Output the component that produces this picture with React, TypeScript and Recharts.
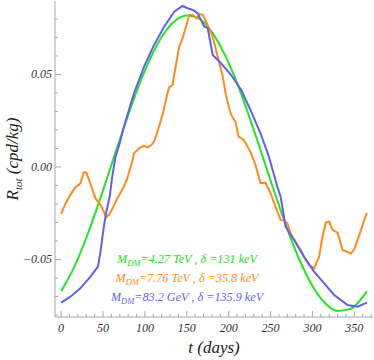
import React from "react";
import { LineChart, Line, XAxis, YAxis } from "recharts";

const greenDays = [0, 15, 30, 45, 60, 75, 90, 105, 120, 135, 150, 165, 180, 195, 210, 225, 240, 255, 270, 285, 300, 315, 330, 345, 365];
const greenValues = [-0.0672, -0.0547, -0.0384, -0.0194, 0.001, 0.0214, 0.0406, 0.0572, 0.0702, 0.0786, 0.0819, 0.080, 0.0729, 0.061, 0.0454, 0.0267, 0.0065, -0.0141, -0.0336, -0.0507, -0.0643, -0.0735, -0.0778, -0.0767, -0.0672];

const orangeDays = [0, 5, 11, 17, 21, 23, 27, 30, 35, 41, 47, 54, 57, 62, 67, 75, 79, 85, 87, 93, 99, 103, 108, 111, 115, 121, 127, 129, 133, 137, 141, 145, 149, 153, 157, 162, 165, 169, 173, 181, 187, 193, 197, 203, 208, 212, 218, 226, 232, 238, 244, 250, 256, 262, 266, 270, 274, 280, 286, 292, 296, 302, 308, 312, 316, 320, 324, 330, 336, 346, 350, 358, 362, 365];
const orangeValues = [-0.0254, -0.020, -0.0151, -0.011, -0.0097, -0.0088, -0.0029, -0.003, -0.009, -0.017, -0.0205, -0.0272, -0.026, -0.022, -0.017, -0.0106, -0.006, 0.0029, 0.0074, 0.0101, 0.0114, 0.0106, 0.012, 0.0137, 0.019, 0.028, 0.0398, 0.0431, 0.0443, 0.0551, 0.065, 0.0696, 0.0758, 0.0822, 0.0822, 0.0804, 0.0827, 0.0822, 0.0786, 0.0704, 0.0596, 0.0488, 0.038, 0.0281, 0.0245, 0.0164, 0.0146, 0.0083, 0.0011, -0.0088, -0.0085, -0.0142, -0.0215, -0.0286, -0.029, -0.0304, -0.036, -0.0404, -0.0449, -0.0503, -0.053, -0.0548, -0.0485, -0.0377, -0.030, -0.0296, -0.034, -0.0355, -0.0449, -0.0467, -0.0445, -0.034, -0.0285, -0.025];

const blueDays = [0, 11, 23, 35, 44, 47, 51, 54, 58, 61, 65, 70, 75, 87, 99, 111, 123, 135, 145, 151, 159, 163, 167, 171, 175, 181, 191, 203, 215, 226, 238, 248, 258, 262, 268, 278, 290, 302, 314, 326, 342, 354, 365];
const blueValues = [-0.0733, -0.0701, -0.0656, -0.0593, -0.0539, -0.0458, -0.0323, -0.0242, -0.016, -0.0052, 0.0056, 0.013, 0.0218, 0.0398, 0.0542, 0.066, 0.0758, 0.0839, 0.087, 0.0858, 0.0845, 0.083, 0.0795, 0.0758, 0.075, 0.0605, 0.056, 0.0497, 0.0416, 0.0308, 0.0182, 0.0056, -0.0106, -0.016, -0.0323, -0.0395, -0.0485, -0.0566, -0.0629, -0.0692, -0.0746, -0.0755, -0.0733];

const xTicks = [0, 10, 20, 30, 40, 50, 60, 70, 80, 90, 100, 110, 120, 130, 140, 150, 160, 170, 180, 190, 200, 210, 220, 230, 240, 250, 260, 270, 280, 290, 300, 310, 320, 330, 340, 350, 360, 370];
const xLabelTicks = [0, 50, 100, 150, 200, 250, 300, 350];
const yTicks = [-0.08, -0.07, -0.06, -0.05, -0.04, -0.03, -0.02, -0.01, 0, 0.01, 0.02, 0.03, 0.04, 0.05, 0.06, 0.07, 0.08];
const yLabelTicks = [-0.05, 0, 0.05];
const yLabelText = ["\u22120.05", "0.00", "0.05"];

const legendLines = [
  { mass: "=4.27 TeV , \u03b4 =131 keV", color: "#22dd22" },
  { mass: "=7.76 TeV , \u03b4 =35.8 keV", color: "#ff8c1a" },
  { mass: "=83.2 GeV , \u03b4 =135.9 keV", color: "#6464f5" },
];

const toSeries = (days: number[], vals: number[]) => days.map((d, i) => ({ t: d, v: vals[i] }));
const greenData = toSeries(greenDays, greenValues);
const orangeData = toSeries(orangeDays, orangeValues);
const blueData = toSeries(blueDays, blueValues);

const FRAME = "#a8a8a8";
const FONT = "'Liberation Serif', 'Times New Roman', serif";

const isMajorX = (v: number) => xLabelTicks.indexOf(v) >= 0;
const yMajorIndex = (v: number) => yLabelTicks.findIndex((m) => Math.abs(m - v) < 1e-9);

const BottomTick = (p: any) => {
  const { x, y, payload } = p;
  const v = payload.value;
  const major = isMajorX(v);
  return (
    <g>
      <line x1={x} x2={x} y1={y} y2={y - (major ? 6 : 3)} stroke={FRAME} strokeWidth={1} />
      {major && (
        <text x={x} y={y + 15} textAnchor="middle" fontFamily={FONT} fontStyle="italic" fontSize={12} fill="#333">
          {v}
        </text>
      )}
    </g>
  );
};

const TopTick = (p: any) => {
  const { x, y, payload } = p;
  const major = isMajorX(payload.value);
  return <line x1={x} x2={x} y1={y} y2={y + (major ? 6 : 3)} stroke={FRAME} strokeWidth={1} />;
};

const LeftTick = (p: any) => {
  const { x, y, payload } = p;
  const idx = yMajorIndex(payload.value);
  const major = idx >= 0;
  return (
    <g>
      <line x1={x} x2={x + (major ? 6 : 3)} y1={y} y2={y} stroke={FRAME} strokeWidth={1} />
      {major && (
        <text x={x - 3} y={y + 4} textAnchor="end" fontFamily={FONT} fontStyle="italic" fontSize={12} fill="#333">
          {yLabelText[idx]}
        </text>
      )}
    </g>
  );
};

const RightTick = (p: any) => {
  const { x, y, payload } = p;
  const major = yMajorIndex(payload.value) >= 0;
  return <line x1={x} x2={x - (major ? 6 : 3)} y1={y} y2={y} stroke={FRAME} strokeWidth={1} />;
};

export default function App() {
  return (
    <div style={{ position: "absolute", left: 0, top: 0, width: 374, height: 360 }}>
      <LineChart width={374} height={360} margin={{ top: 1, right: 1, bottom: 0, left: 0 }}>
        <XAxis
          dataKey="t"
          type="number"
          domain={[-7.3, 372.3]}
          allowDataOverflow
          ticks={xTicks}
          interval={0}
          height={43}
          tickSize={0}
          tickMargin={0}
          tickLine={false}
          axisLine={{ stroke: FRAME }}
          tick={<BottomTick />}
        />
        <XAxis
          xAxisId="top"
          orientation="top"
          type="number"
          domain={[-7.3, 372.3]}
          allowDataOverflow
          ticks={xTicks}
          interval={0}
          height={0}
          tickSize={0}
          tickMargin={0}
          tickLine={false}
          axisLine={{ stroke: FRAME }}
          tick={<TopTick />}
        />
        <YAxis
          type="number"
          domain={[-0.0811, 0.0897]}
          allowDataOverflow
          ticks={yTicks}
          interval={0}
          width={55}
          tickSize={0}
          tickMargin={0}
          tickLine={false}
          axisLine={{ stroke: FRAME }}
          tick={<LeftTick />}
        />
        <YAxis
          yAxisId="right"
          orientation="right"
          type="number"
          domain={[-0.0811, 0.0897]}
          allowDataOverflow
          ticks={yTicks}
          interval={0}
          width={0}
          tickSize={0}
          tickMargin={0}
          tickLine={false}
          axisLine={{ stroke: FRAME }}
          tick={<RightTick />}
        />
        <Line data={greenData} dataKey="v" type="monotone" stroke="#22e622" strokeWidth={2} dot={false} isAnimationActive={false} />
        <Line data={orangeData} dataKey="v" type="linear" stroke="#ff8c1a" strokeWidth={2} dot={false} isAnimationActive={false} />
        <Line data={blueData} dataKey="v" type="linear" stroke="#5f5ff5" strokeWidth={2} dot={false} isAnimationActive={false} />
      </LineChart>
      <svg width={374} height={360} style={{ position: "absolute", left: 0, top: 0, pointerEvents: "none" }}>
        {legendLines.map((l, i) => (
          <text key={i} x={187} y={263 + i * 19} textAnchor="middle" fontFamily={FONT} fontStyle="italic" fontSize={12.2} fill={l.color}>
            <tspan>M</tspan>
            <tspan fontSize={8.5} dy={3}>DM</tspan>
            <tspan dy={-3}>{l.mass}</tspan>
          </text>
        ))}
        <text x={214} y={353} textAnchor="middle" fontFamily={FONT} fontStyle="italic" fontSize={17} fill="#222">
          t (days)
        </text>
        <text transform="translate(18,159) rotate(-90)" textAnchor="middle" fontFamily={FONT} fontStyle="italic" fontSize={17} fill="#222">
          <tspan>R</tspan>
          <tspan fontSize={11} dy={4}>tot</tspan>
          <tspan dy={-4}> (cpd/kg)</tspan>
        </text>
      </svg>
    </div>
  );
}
